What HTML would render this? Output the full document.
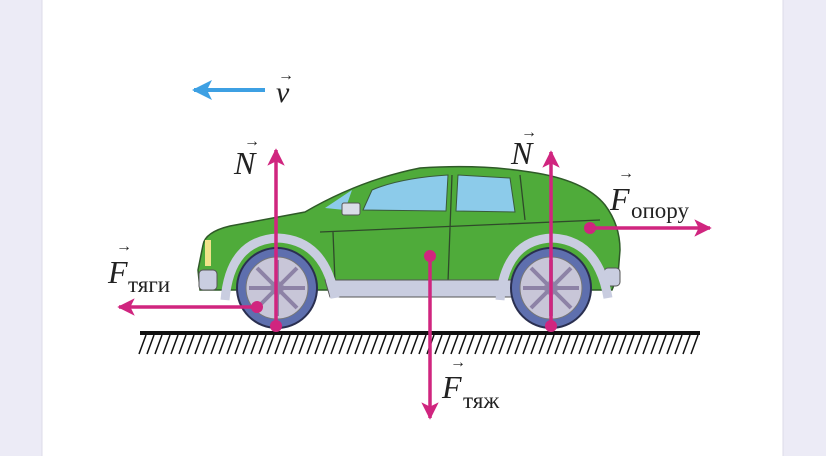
<!DOCTYPE html>
<html><head><meta charset="utf-8"><style>
html,body{margin:0;padding:0;width:826px;height:456px;overflow:hidden;background:#fff}
</style></head><body>
<svg width="826" height="456" viewBox="0 0 826 456" xmlns="http://www.w3.org/2000/svg" font-family="'Liberation Serif', serif">
<defs>
<marker id="pm" viewBox="0 0 10 10" refX="9" refY="5" markerWidth="5" markerHeight="5" orient="auto" markerUnits="strokeWidth"><path d="M0,0 L10,5 L0,10 L2.5,5z" fill="#d0257f"/></marker>
<marker id="bm" viewBox="0 0 10 10" refX="9" refY="5" markerWidth="5" markerHeight="5" orient="auto" markerUnits="strokeWidth"><path d="M0,0 L10,5 L0,10 L2.5,5z" fill="#3da0e3"/></marker>
</defs>
<rect x="0" y="0" width="42" height="456" fill="#ecebf6"/>
<rect x="783" y="0" width="43" height="456" fill="#ecebf6"/>
<line x1="42" y1="0" x2="42" y2="456" stroke="#dcdbe8"/>
<line x1="783" y1="0" x2="783" y2="456" stroke="#dcdbe8"/>

<line x1="265" y1="90" x2="194" y2="90" stroke="#3da0e3" stroke-width="4" marker-end="url(#bm)"/>
<text x="276" y="102" font-size="30" font-style="italic" fill="#222">v</text>
<text x="278" y="80" font-size="16" fill="#222">→</text>

<path d="M203,245 Q205,232 230,226 L305,212 Q360,180 420,168 Q480,164 530,172 Q585,180 605,205 Q620,225 620,250 L618,275 L612,290 L200,290 L198,270 Z" fill="#4fab3a" stroke="#2f5a28" stroke-width="1.5"/>
<path d="M363,210 L372,190 Q400,178 448,175 L446,211 Z" fill="#8ccbea" stroke="#3a5a3a"/>
<path d="M458,175 L510,178 L515,212 L456,211 Z" fill="#8ccbea" stroke="#3a5a3a"/>
<path d="M325,208 L352,190 L345,210 Z" fill="#8ccbea"/>
<rect x="342" y="203" width="18" height="12" rx="2" fill="#d9dde8" stroke="#555"/>
<path d="M320,232 L600,220 M333,232 L335,282 M452,175 L448,282 M520,175 L525,220" stroke="#2f4a2a" stroke-width="1.3" fill="none"/>
<path d="M325,280 L515,280 L512,297 L330,297 Z" fill="#c9cde0" stroke="#555"/>
<rect x="199" y="270" width="18" height="20" rx="4" fill="#c9cde0" stroke="#555"/>
<rect x="604" y="268" width="16" height="18" rx="4" fill="#c9cde0" stroke="#555"/>
<rect x="205" y="240" width="6" height="26" fill="#f1e38a"/>
<path d="M225,300 Q230,240 278,238 Q325,240 335,298" fill="none" stroke="#c9cde0" stroke-width="9"/>
<path d="M500,300 Q505,240 552,238 Q598,240 608,298" fill="none" stroke="#c9cde0" stroke-width="9"/>
<circle cx="277" cy="288" r="40" fill="#5e6fae" stroke="#2a2f50" stroke-width="2"/>
<circle cx="277" cy="288" r="31" fill="#c8c6d8" stroke="#777"/>
<circle cx="277" cy="288" r="7" fill="#9a8fb0"/>
<circle cx="551" cy="288" r="40" fill="#5e6fae" stroke="#2a2f50" stroke-width="2"/>
<circle cx="551" cy="288" r="31" fill="#c8c6d8" stroke="#777"/>
<circle cx="551" cy="288" r="7" fill="#9a8fb0"/>
<g stroke="#8d82a6" stroke-width="4">
<path d="M277,260 L277,316 M249,288 L305,288 M257,268 L297,308 M297,268 L257,308"/>
<path d="M551,260 L551,316 M523,288 L579,288 M531,268 L571,308 M571,268 L531,308"/>
</g>

<line x1="140" y1="333" x2="700" y2="333" stroke="#111" stroke-width="4"/>
<g stroke="#111" stroke-width="1.5">
<path d="M146,335 L139,354 M154,335 L147,354 M162,335 L155,354 M170,335 L163,354 M178,335 L171,354 M186,335 L179,354 M194,335 L187,354 M202,335 L195,354 M210,335 L203,354 M218,335 L211,354 M226,335 L219,354 M234,335 L227,354 M242,335 L235,354 M250,335 L243,354 M258,335 L251,354 M266,335 L259,354 M274,335 L267,354 M282,335 L275,354 M290,335 L283,354 M298,335 L291,354 M306,335 L299,354 M314,335 L307,354 M322,335 L315,354 M330,335 L323,354 M338,335 L331,354 M346,335 L339,354 M354,335 L347,354 M362,335 L355,354 M370,335 L363,354 M378,335 L371,354 M386,335 L379,354 M394,335 L387,354 M402,335 L395,354 M410,335 L403,354 M418,335 L411,354 M426,335 L419,354 M434,335 L427,354 M442,335 L435,354 M450,335 L443,354 M458,335 L451,354 M466,335 L459,354 M474,335 L467,354 M482,335 L475,354 M490,335 L483,354 M498,335 L491,354 M506,335 L499,354 M514,335 L507,354 M522,335 L515,354 M530,335 L523,354 M538,335 L531,354 M546,335 L539,354 M554,335 L547,354 M562,335 L555,354 M570,335 L563,354 M578,335 L571,354 M586,335 L579,354 M594,335 L587,354 M602,335 L595,354 M610,335 L603,354 M618,335 L611,354 M626,335 L619,354 M634,335 L627,354 M642,335 L635,354 M650,335 L643,354 M658,335 L651,354 M666,335 L659,354 M674,335 L667,354 M682,335 L675,354 M690,335 L683,354 M698,335 L691,354"/>
</g>

<g stroke="#d0257f" stroke-width="3.5" fill="none">
<line x1="276" y1="326" x2="276" y2="150" marker-end="url(#pm)"/>
<line x1="551" y1="326" x2="551" y2="152" marker-end="url(#pm)"/>
<line x1="257" y1="307" x2="119" y2="307" marker-end="url(#pm)"/>
<line x1="590" y1="228" x2="710" y2="228" marker-end="url(#pm)"/>
<line x1="430" y1="256" x2="430" y2="418" marker-end="url(#pm)"/>
</g>
<g fill="#d0257f">
<circle cx="276" cy="326" r="6"/><circle cx="551" cy="326" r="6"/>
<circle cx="257" cy="307" r="6"/><circle cx="590" cy="228" r="6"/><circle cx="430" cy="256" r="6"/>
</g>

<g fill="#222" font-style="italic" font-size="32">
<text x="234" y="174">N</text>
<text x="511" y="164">N</text>
<text x="108" y="283">F</text>
<text x="610" y="210">F</text>
<text x="442" y="398">F</text>
</g>
<g fill="#222" font-size="16">
<text x="244" y="146">→</text><text x="521" y="137">→</text>
<text x="116" y="251">→</text><text x="618" y="178">→</text><text x="450" y="367">→</text>
</g>
<g fill="#222" font-size="23">
<text x="128" y="292">тяги</text>
<text x="631" y="218">опору</text>
<text x="463" y="408">тяж</text>
</g>
</svg>
</body></html>
